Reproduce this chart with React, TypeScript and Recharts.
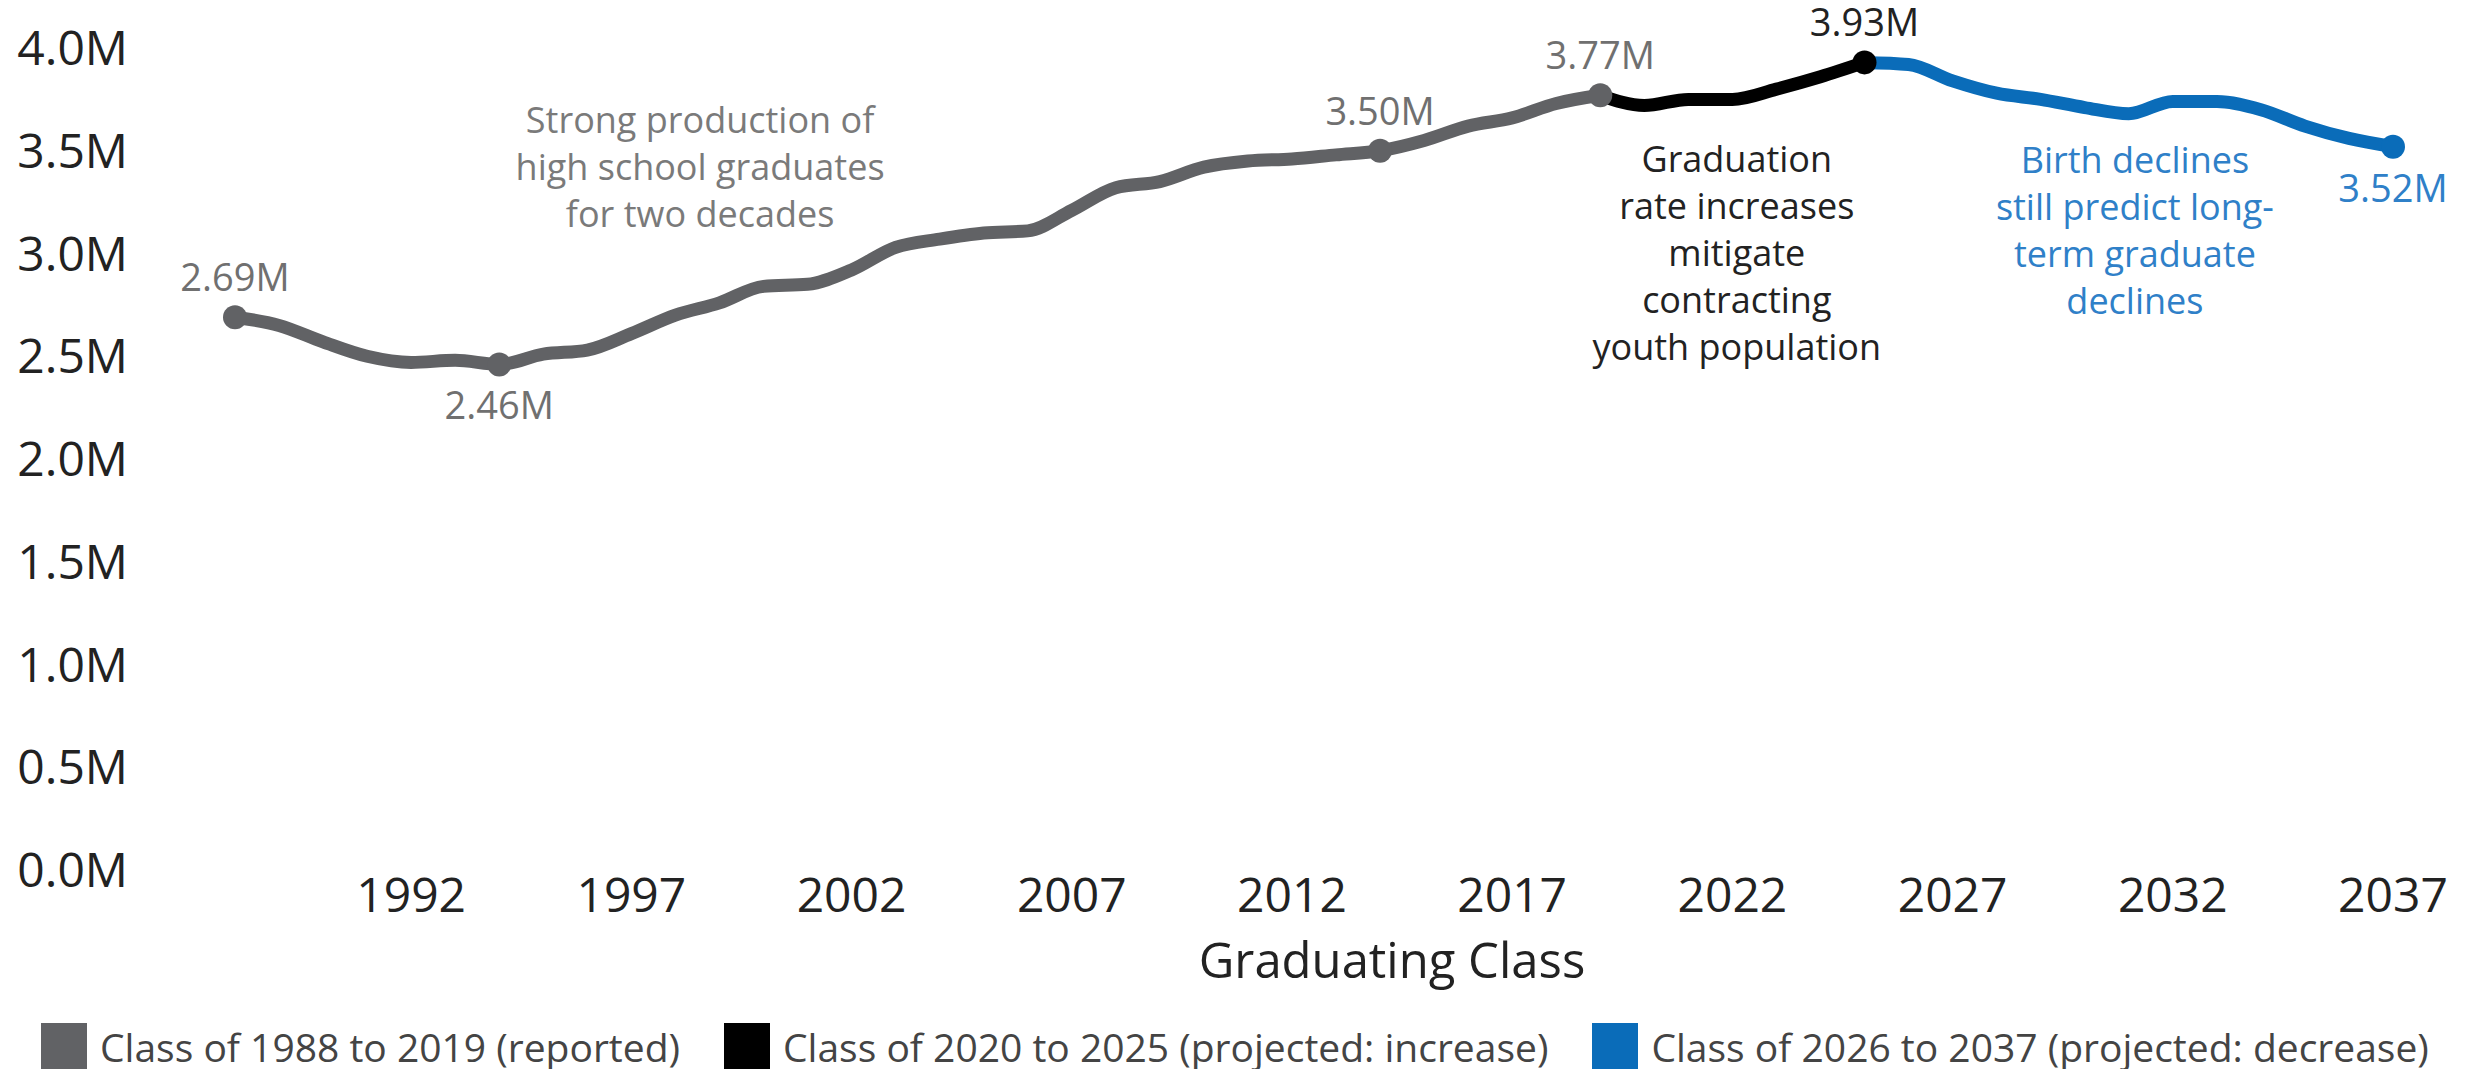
import React from "react"
import { LineChart, Line, XAxis, YAxis, Legend, ReferenceDot } from "recharts"

// graduates in millions, by graduating class
const reportedYears = [1988, 1989, 1990, 1991, 1992, 1993, 1994, 1995, 1996, 1997, 1998, 1999, 2000, 2001, 2002, 2003, 2004, 2005, 2006, 2007, 2008, 2009, 2010, 2011, 2012, 2013, 2014, 2015, 2016, 2017, 2018, 2019]
const reportedValues = [2.69, 2.65, 2.57, 2.5, 2.47, 2.48, 2.46, 2.51, 2.53, 2.61, 2.7, 2.76, 2.84, 2.85, 2.92, 3.03, 3.07, 3.1, 3.11, 3.21, 3.32, 3.35, 3.42, 3.45, 3.46, 3.48, 3.5, 3.55, 3.62, 3.66, 3.73, 3.77]

const increaseYears = [2019, 2020, 2021, 2022, 2023, 2024, 2025]
const increaseValues = [3.77, 3.72, 3.75, 3.75, 3.8, 3.86, 3.93]

const decreaseYears = [2025, 2026, 2027, 2028, 2029, 2030, 2031, 2032, 2033, 2034, 2035, 2036, 2037]
const decreaseValues = [3.93, 3.92, 3.84, 3.78, 3.75, 3.71, 3.68, 3.74, 3.74, 3.7, 3.62, 3.56, 3.52]

const xTicks = [1992, 1997, 2002, 2007, 2012, 2017, 2022, 2027, 2032, 2037]
const yTicks = [0, 0.5, 1, 1.5, 2, 2.5, 3, 3.5, 4]

const reportedLabels = [1988, 1994, 2014, 2019]
const increaseLabels = [2025]
const decreaseLabels = [2037]
const labelsBelow = [1994, 2037]

const seriesNames = [
  "Class of 1988 to 2019 (reported)",
  "Class of 2020 to 2025 (projected: increase)",
  "Class of 2026 to 2037 (projected: decrease)",
]

const notes = [
  { year: 1998.56, value: 3.586, lines: ["Strong production of", "high school graduates", "for two decades"], color: "#7a7a7a" },
  { year: 2022.1, value: 3.397, lines: ["Graduation", "rate increases", "mitigate", "contracting", "youth population"], color: "#222222" },
  { year: 2031.14, value: 3.392, lines: ["Birth declines", "still predict long-", "term graduate", "declines"], color: "#2f80c8" },
]

const GRAY = "#616265"
const BLACK = "#000000"
const BLUE = "#0a6cb9"
const FONT = "'Open Sans', sans-serif"

const toRows = (years: number[], values: number[]) => years.map((year, i) => ({ year, value: values[i] }))

const reportedData = toRows(reportedYears, reportedValues)
const increaseData = toRows(increaseYears, increaseValues)
const decreaseData = toRows(decreaseYears, decreaseValues)

const makeDot = (labeled: number[], color: string, textColor: string) => (props: any) => {
  const { cx, cy, payload } = props
  const key = `dot-${payload.year}`
  if (!labeled.includes(payload.year)) return <g key={key} />
  const below = labelsBelow.includes(payload.year)
  return (
    <g key={key}>
      <circle cx={cx} cy={cy} r={12} fill={color} />
      <text
        x={cx}
        y={below ? cy + 55 : cy - 26}
        textAnchor="middle"
        fontSize={38}
        fontFamily={FONT}
        fill={textColor}
      >
        {`${payload.value.toFixed(2)}M`}
      </text>
    </g>
  )
}

const NoteLabel = (props: any) => {
  const { viewBox, lines, color } = props
  const cx = viewBox.x + viewBox.width / 2
  const cy = viewBox.y + viewBox.height / 2
  return (
    <text x={cx} y={cy} textAnchor="middle" fontSize={36} fontFamily={FONT} fill={color}>
      {lines.map((line: string, i: number) => (
        <tspan key={line} x={cx} dy={i === 0 ? 0 : 47}>
          {line}
        </tspan>
      ))}
    </text>
  )
}

const AxisTitle = (props: any) => {
  const { viewBox } = props
  return (
    <text
      x={viewBox.x + viewBox.width / 2 + 78}
      y={viewBox.y + 108}
      textAnchor="middle"
      fontSize={49}
      fontFamily={FONT}
      fill="#222222"
    >
      Graduating Class
    </text>
  )
}

const renderLegend = (props: any) => {
  const items = [...(props.payload || [])].sort(
    (a: any, b: any) => seriesNames.indexOf(a.value) - seriesNames.indexOf(b.value)
  )
  return (
    <div style={{ display: "flex", alignItems: "center", height: 46, paddingLeft: 41, fontFamily: FONT }}>
      {items.map((item: any) => (
        <div key={item.value} style={{ display: "flex", alignItems: "center", marginRight: 44 }}>
          <div style={{ width: 46, height: 46, background: item.color }} />
          <span style={{ marginLeft: 13, fontSize: 39, color: "#444444", whiteSpace: "nowrap" }}>{item.value}</span>
        </div>
      ))}
    </div>
  )
}

export default function App() {
  return (
    <div style={{ position: "absolute", left: 0, top: 0, width: 2468, height: 1069, background: "#ffffff" }}>
      <LineChart width={2468} height={1069} margin={{ top: 48, right: 75, bottom: 0, left: 0 }}>
        <XAxis
          dataKey="year"
          type="number"
          domain={[1988, 2037]}
          ticks={xTicks}
          axisLine={false}
          tickLine={false}
          tickSize={0}
          tickMargin={8}
          height={153}
          tick={{ fontSize: 48, fontFamily: FONT, fill: "#222222" }}
          label={<AxisTitle />}
          allowDuplicatedCategory={false}
        />
        <YAxis
          type="number"
          domain={[0, 4]}
          ticks={yTicks}
          axisLine={false}
          tickLine={false}
          tickSize={0}
          tickMargin={107}
          width={235}
          tick={{ fontSize: 48, fontFamily: FONT, fill: "#222222" }}
          tickFormatter={(v: number) => `${v.toFixed(1)}M`}
        />
        <Legend verticalAlign="bottom" align="left" content={renderLegend} wrapperStyle={{ left: 0, bottom: 0, width: 2468 }} />
        <Line
          data={decreaseData}
          dataKey="value"
          name={seriesNames[2]}
          type="monotone"
          stroke={BLUE}
          strokeWidth={13}
          strokeLinecap="round"
          dot={makeDot(decreaseLabels, BLUE, "#2f80c8")}
          activeDot={false}
          isAnimationActive={false}
        />
        <Line
          data={increaseData}
          dataKey="value"
          name={seriesNames[1]}
          type="monotone"
          stroke={BLACK}
          strokeWidth={13}
          strokeLinecap="round"
          dot={makeDot(increaseLabels, BLACK, "#222222")}
          activeDot={false}
          isAnimationActive={false}
        />
        <Line
          data={reportedData}
          dataKey="value"
          name={seriesNames[0]}
          type="monotone"
          stroke={GRAY}
          strokeWidth={13}
          strokeLinecap="round"
          dot={makeDot(reportedLabels, GRAY, "#707070")}
          activeDot={false}
          isAnimationActive={false}
        />
        {notes.map((note) => (
          <ReferenceDot
            key={note.lines[0]}
            x={note.year}
            y={note.value}
            r={0}
            fill="none"
            stroke="none"
            ifOverflow="visible"
            label={<NoteLabel lines={note.lines} color={note.color} />}
          />
        ))}
      </LineChart>
    </div>
  )
}
